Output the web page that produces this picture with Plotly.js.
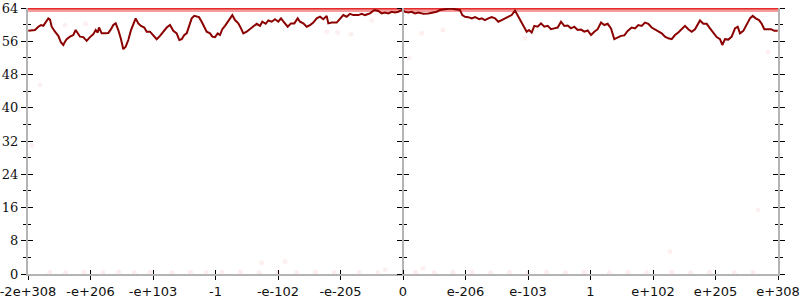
<!DOCTYPE html>
<html>
<head>
<meta charset="utf-8">
<script src="https://cdn.plot.ly/plotly-3.0.1.min.js"></script>
<style>html,body{margin:0;padding:0;background:#fff;}#chart{width:800px;height:300px;}</style>
</head>
<body>
<div id="chart"></div>
<script>
// Tick positions (ordinal position along the float axis) and their labels
const xTickPos = [0,1,2,3,4,5,6,7,8,9,10,11,12];
const xTickLabels = ["-2e+308","-e+206","-e+103","-1","-e-102","-e-205","0","e-206","e-103","1","e+102","e+205","e+308"];
const yTickVals = [0,8,16,24,32,40,48,56,64];
const yMinorVals = [4,12,20,28,36,44,52,60];

// Average bits-of-error curve
const errX = [0.005,0.112,0.165,0.208,0.245,0.283,0.325,0.352,0.379,0.432,0.485,0.528,0.565,0.592,0.619,0.672,0.725,0.763,0.795,0.832,0.885,0.939,0.992,1.045,1.083,1.115,1.136,1.179,1.232,1.285,1.328,1.365,1.403,1.445,1.488,1.525,1.563,1.605,1.648,1.685,1.723,1.765,1.808,1.861,1.899,1.952,2.005,2.059,2.112,2.165,2.219,2.272,2.325,2.379,2.421,
2.459,2.501,2.539,2.576,2.619,2.661,2.699,2.736,2.779,2.821,2.859,2.912,2.949,2.992,3.035,3.072,3.109,3.152,3.195,3.232,3.269,3.312,3.365,3.408,3.445,3.499,3.552,3.605,3.659,3.712,3.749,3.803,3.845,3.899,3.952,4.005,4.048,4.101,4.155,4.208,4.261,4.315,4.352,4.405,4.459,4.512,4.565,4.619,4.672,4.725,4.779,
4.805,4.859,4.939,4.992,5.045,5.099,5.152,5.205,5.285,5.339,5.392,5.472,5.541,5.605,5.659,5.712,5.765,5.819,5.872,5.925,5.979,6.032,6.085,6.139,6.192,6.245,6.325,6.405,6.459,6.539,6.592,6.672,6.752,6.832,6.912,6.949,6.992,7.045,7.099,7.152,7.221,
7.259,7.312,7.365,7.419,7.472,7.525,7.579,7.632,7.685,7.739,7.792,7.835,7.872,7.925,7.979,8.016,8.059,8.101,8.155,8.208,8.261,8.315,8.368,8.421,8.475,8.528,8.581,8.635,8.688,8.741,8.795,8.848,8.901,8.955,9.008,9.061,9.115,9.168,9.221,9.275,9.328,9.381,9.435,9.488,9.541,9.595,
9.659,9.712,9.765,9.819,9.872,9.925,9.979,10.032,10.085,10.139,10.192,10.245,10.299,10.352,10.405,10.459,10.512,10.565,10.619,10.672,10.725,10.752,10.805,10.859,10.912,10.965,11.019,11.072,11.109,11.152,11.205,11.259,11.312,11.355,11.392,11.445,11.499,11.552,11.595,11.643,11.696,11.739,11.781,11.835,11.888,11.941,11.995];
const errY = [58.5,58.7,59.5,59.9,59.7,60.5,61.5,61.2,59.5,58.3,57.3,55.7,55.1,55.9,56.5,57.1,57.5,58.7,57.9,57.1,57.0,56.1,57.0,57.7,58.7,58.1,59.3,57.9,57.9,58.0,58.9,59.9,60.3,58.7,56.5,54.1,54.7,56.3,58.7,60.3,61.5,60.3,59.7,59.3,58.3,58.3,57.5,56.5,57.3,58.3,59.3,59.9,58.5,57.9,56.3,
56.5,57.5,57.9,59.5,61.5,62.1,62.0,61.8,60.7,59.5,58.3,57.9,57.1,57.0,57.9,57.5,58.9,59.7,60.7,61.5,62.3,61.1,60.3,59.1,57.9,58.3,58.9,59.5,60.2,59.7,60.7,60.2,61.0,60.7,61.3,60.7,61.5,60.5,59.5,60.3,60.3,61.5,60.7,60.3,59.5,59.9,60.5,61.5,61.9,61.3,62.1,
60.3,60.5,60.5,61.5,62.3,61.9,62.6,62.3,62.3,62.6,62.3,62.7,63.5,63.3,62.7,62.9,62.7,63.1,62.9,63.1,63.5,63.1,62.9,63.1,62.7,62.9,62.6,62.7,62.9,63.1,63.5,63.7,63.9,63.7,63.5,62.3,61.9,61.8,61.5,61.8,61.3,
61.5,61.1,61.5,61.8,61.5,60.7,61.1,61.5,61.9,62.3,63.4,62.3,61.1,59.9,58.3,58.7,58.1,59.7,59.5,60.3,59.5,59.7,58.9,59.1,59.3,60.7,59.7,59.8,59.1,59.5,58.7,58.8,58.3,58.6,57.5,58.3,58.9,60.5,59.9,60.2,59.1,56.5,57.0,57.3,57.4,58.5,
59.3,59.1,59.9,59.7,60.5,60.2,59.3,58.9,58.3,57.9,57.1,56.7,56.5,57.5,58.1,58.9,59.7,58.9,58.3,58.9,60.3,61.0,60.2,60.2,59.1,57.9,57.0,56.5,55.1,56.5,56.4,57.1,59.1,59.5,57.9,58.5,59.9,61.5,62.1,61.5,61.1,60.2,58.9,58.9,58.9,58.5,58.5];

// Dense band of sampled points at maximal error
const bandX = [0, 12];
const bandY = [64, 64];

// Faint scattered sample points
const scatterX = [0.192,0.059,3.739,4.112,10.272,11.84,11.68,5.712,6.32,6.096,6.299,4.955,5.168,6.64,4.779,7.952,0.592,0.923,5.499];
const scatterY = [45.5,30.9,2.7,3.0,5.4,53.5,15.4,1.0,1.4,52,57.9,58.1,57.7,58.7,58.3,56.7,59.9,60.2,61];
const bottomX = [0.35,0.6,0.9,1.2,1.45,1.7,1.95,2.3,2.6,2.85,3.1,3.4,3.7,4.0,4.3,4.6,4.9,5.3,5.6,6.2,6.5,6.8,7.1,7.4,7.7,8.0,8.3,8.6,8.9,9.3,9.6,9.9,10.3,10.6,10.9,11.3,11.6];
const bottomY = [0.4,0.3,0.4,0.3,0.5,0.3,0.4,0.3,0.4,0.3,0.4,0.5,0.3,0.4,0.3,0.4,0.3,0.4,0.3,0.4,0.3,0.4,0.5,0.3,0.4,0.3,0.4,0.3,0.4,0.3,0.4,0.3,0.4,0.3,0.4,0.3,0.4];

const AX = '#b4b4b4';
const traces = [
  {x: bottomX, y: bottomY, mode:'markers', type:'scatter', marker:{color:'rgba(230,40,40,0.08)', size:5}, hoverinfo:'skip', cliponaxis:false},
  {x: scatterX, y: scatterY, mode:'markers', type:'scatter', marker:{color:'rgba(230,40,40,0.07)', size:5}, hoverinfo:'skip'},
  {x: bandX, y: bandY, mode:'lines', type:'scatter', line:{color:'rgba(235,60,60,0.5)', width:8}, hoverinfo:'skip'},
  {x: bandX, y: bandY, mode:'lines', type:'scatter', line:{color:'rgba(225,25,25,0.85)', width:3}, hoverinfo:'skip'},
  {x: errX, y: errY, mode:'lines', type:'scatter', line:{color:'#8b0000', width:2}, hoverinfo:'skip'},
  // empty traces so the overlaid tick axes are drawn
  {x: [], y: [], xaxis:'x2', yaxis:'y', type:'scatter', mode:'lines', hoverinfo:'skip'},
  {x: [], y: [], xaxis:'x', yaxis:'y2', type:'scatter', mode:'lines', hoverinfo:'skip'},
  {x: [], y: [], xaxis:'x', yaxis:'y3', type:'scatter', mode:'lines', hoverinfo:'skip'},
  {x: [], y: [], xaxis:'x', yaxis:'y4', type:'scatter', mode:'lines', hoverinfo:'skip'}
];

const yBase = {range:[0,64], tickvals:yTickVals, showgrid:false, zeroline:false, tickcolor:'#000', tickwidth:1, fixedrange:true};
const minorOut = {tickvals:yMinorVals, ticks:'outside', ticklen:3, tickcolor:'#000', tickwidth:1, showgrid:false};
const minorIn = {tickvals:yMinorVals, ticks:'inside', ticklen:3, tickcolor:'#000', tickwidth:1, showgrid:false};

const layout = {
  width:800, height:300,
  margin:{l:28, r:22, t:8, b:26},
  paper_bgcolor:'#fff', plot_bgcolor:'#fff',
  showlegend:false,
  xaxis:{range:[0,12], tickvals:xTickPos, ticktext:xTickLabels, ticks:'outside', ticklen:4, tickcolor:'#000', tickwidth:1,
         showline:true, linecolor:AX, linewidth:2, showgrid:false, zeroline:false, anchor:'y', ticklabeloverflow:'allow',
         tickfont:{family:'DejaVu Sans', size:13, color:'#111'}, fixedrange:true},
  xaxis2:{range:[0,12], tickvals:xTickPos, ticks:'inside', ticklen:4, tickcolor:'#000', tickwidth:1, overlaying:'x', anchor:'y', side:'bottom',
          showticklabels:false, showline:false, showgrid:false, zeroline:false, fixedrange:true},
  yaxis:Object.assign({}, yBase, {ticks:'outside', ticklen:5, minor:minorOut, showline:true, linecolor:AX, linewidth:2, mirror:'ticks',
         tickfont:{family:'DejaVu Serif', size:13, color:'#111'}}),
  yaxis2:Object.assign({}, yBase, {overlaying:'y', ticks:'inside', ticklen:5, minor:minorIn, showline:true, linecolor:AX, linewidth:2, mirror:'ticks', showticklabels:false}),
  yaxis3:Object.assign({}, yBase, {overlaying:'y', anchor:'free', position:0.5, ticks:'outside', ticklen:5, minor:minorOut, showline:true, linecolor:AX, linewidth:2, showticklabels:false}),
  yaxis4:Object.assign({}, yBase, {overlaying:'y', anchor:'free', position:0.5, ticks:'inside', ticklen:5, minor:minorIn, showline:true, linecolor:AX, linewidth:2, showticklabels:false})
};

Plotly.newPlot('chart', traces, layout, {staticPlot:true, displayModeBar:false});
</script>
</body>
</html>
